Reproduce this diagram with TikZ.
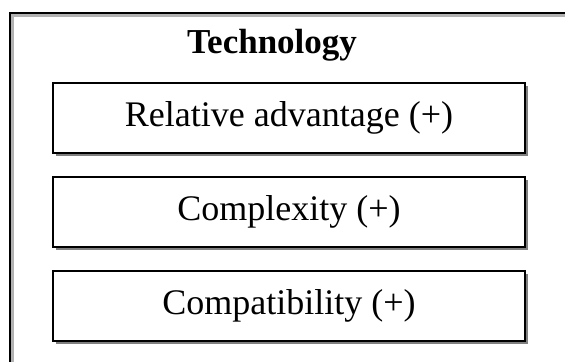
\documentclass[tikz,border=0pt]{standalone}
\usepackage{fontspec}
\setmainfont{Liberation Serif}
\usetikzlibrary{shadows}
\tikzset{
  factorbox/.style={draw=black,line width=0.7pt,fill=white,
    minimum width=236pt,minimum height=35pt,inner sep=0pt,
    font=\fontsize{18}{20}\selectfont,
    drop shadow={shadow xshift=1.4pt,shadow yshift=-1.4pt,fill=black!50,opacity=1}}
}
\begin{document}
\begin{tikzpicture}[x=0.5pt,y=-0.5pt]
  \useasboundingbox (0,0) rectangle (565,361);
  \clip (0,0) rectangle (565,361);

  % Outer frame (runs off the page to the right and bottom)
  \draw[black!30,line width=1.6pt] (12,15) rectangle (600,400);
  \draw[black,line width=1.1pt] (10,13) rectangle (600,400);

  % Title
  \node[font=\fontsize{17.5}{20}\selectfont\bfseries] (tech) at (272,45) {Technology};

  % Factors
  \node[factorbox] (reladv) at (289,118) {Relative advantage (+)};
  \node[factorbox] (cplx) at (289,212) {Complexity (+)};
  \node[factorbox] (compat) at (289,306) {Compatibility (+)};
\end{tikzpicture}
\end{document}
